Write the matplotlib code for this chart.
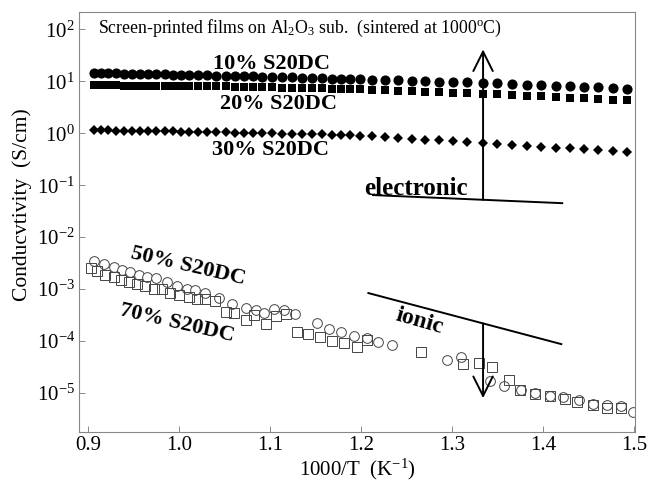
import matplotlib
matplotlib.use("Agg")
import matplotlib.pyplot as plt

plt.rcParams["font.family"] = ["Liberation Serif", "DejaVu Serif"]
plt.rcParams["mathtext.fontset"] = "custom"
plt.rcParams["mathtext.rm"] = "Liberation Serif"
plt.rcParams["mathtext.it"] = "Liberation Serif:italic"
plt.rcParams["mathtext.bf"] = "Liberation Serif:bold"

# ── Electronic (high conductivity) series, shared 1000/T positions ──────────
x_elec = [0.906, 0.914, 0.922, 0.931, 0.939, 0.948, 0.957, 0.966, 0.975, 0.984,
          0.993, 1.002, 1.011, 1.021, 1.031, 1.041, 1.051, 1.061, 1.071, 1.081,
          1.091, 1.102, 1.113, 1.124, 1.135, 1.146, 1.157, 1.168, 1.178, 1.188,
          1.199, 1.212, 1.226, 1.241, 1.256, 1.270, 1.286, 1.301, 1.316, 1.334,
          1.349, 1.366, 1.382, 1.398, 1.414, 1.430, 1.445, 1.460, 1.477, 1.492]

sigma_10 = [14.5, 14.4, 14.3, 14.2, 14.1, 13.9, 13.8, 13.7, 13.6, 13.5,
            13.4, 13.3, 13.2, 13.1, 13.0, 12.9, 12.7, 12.6, 12.5, 12.4,
            12.2, 12.1, 12.0, 11.9, 11.7, 11.6, 11.5, 11.3, 11.2, 11.1,
            11.0, 10.8, 10.6, 10.4, 10.2, 10.0, 9.85, 9.66, 9.48, 9.27,
            9.06, 8.82, 8.60, 8.39, 8.18, 7.98, 7.80, 7.62, 7.41, 7.24]

sigma_20 = [8.37, 8.36, 8.34, 8.30, 8.28, 8.26, 8.24, 8.20, 8.18, 8.17,
            8.15, 8.11, 8.09, 8.07, 8.04, 8.02, 7.94, 7.87, 7.82, 7.74,
            7.69, 7.62, 7.55, 7.48, 7.41, 7.34, 7.28, 7.21, 7.14, 7.10,
            6.98, 6.85, 6.73, 6.59, 6.46, 6.32, 6.19, 6.07, 5.94, 5.79,
            5.64, 5.46, 5.30, 5.14, 4.99, 4.84, 4.71, 4.58, 4.44, 4.32]

sigma_30 = [1.14, 1.14, 1.13, 1.12, 1.12, 1.11, 1.11, 1.10, 1.09, 1.09,
            1.08, 1.07, 1.07, 1.06, 1.05, 1.05, 1.04, 1.03, 1.02, 1.01,
            1.00, 0.993, 0.984, 0.975, 0.966, 0.957, 0.948, 0.940, 0.931, 0.925,
            0.902, 0.873, 0.843, 0.813, 0.783, 0.757, 0.728, 0.701, 0.675, 0.646,
            0.622, 0.597, 0.574, 0.551, 0.530, 0.509, 0.491, 0.473, 0.454, 0.438]

# ── Ionic (low conductivity) series ─────────────────────────────────────────
x_50 = [0.906, 0.917, 0.928, 0.937, 0.946, 0.956, 0.965, 0.975, 0.987, 0.998,
        1.009, 1.018, 1.029, 1.044, 1.058, 1.073, 1.084, 1.093, 1.104, 1.115,
        1.127, 1.152, 1.165, 1.178, 1.192, 1.206, 1.219, 1.234, 1.294, 1.310,
        1.342, 1.357, 1.376, 1.391, 1.407, 1.422, 1.439, 1.455, 1.470, 1.486,
        1.499]
sigma_50 = [3.5e-3, 3.0e-3, 2.7e-3, 2.34e-3, 2.14e-3, 1.9e-3, 1.74e-3, 1.62e-3, 1.38e-3, 1.15e-3,
            1.02e-3, 9.5e-4, 8.3e-4, 6.8e-4, 5.1e-4, 4.3e-4, 4.0e-4, 3.4e-4, 4.2e-4, 4.0e-4,
            3.3e-4, 2.2e-4, 1.7e-4, 1.48e-4, 1.26e-4, 1.17e-4, 9.8e-5, 8.3e-5, 4.3e-5, 4.9e-5,
            1.7e-5, 1.38e-5, 1.15e-5, 1.0e-5, 8.9e-6, 8.3e-6, 7.4e-6, 6.2e-6, 5.8e-6, 5.6e-6,
            4.4e-6]

x_70 = [0.903, 0.910, 0.919, 0.928, 0.936, 0.945, 0.954, 0.963, 0.972, 0.981,
        0.990, 1.000, 1.011, 1.020, 1.029, 1.040, 1.051, 1.060, 1.073, 1.082,
        1.095, 1.106, 1.118, 1.130, 1.142, 1.155, 1.168, 1.181, 1.195, 1.207,
        1.266, 1.312, 1.329, 1.344, 1.362, 1.375, 1.391, 1.408, 1.424, 1.437,
        1.455, 1.470, 1.486]
sigma_70 = [2.57e-3, 2.24e-3, 1.9e-3, 1.74e-3, 1.48e-3, 1.38e-3, 1.23e-3, 1.15e-3, 1.02e-3, 1.02e-3,
            8.3e-4, 7.6e-4, 7.1e-4, 6.6e-4, 6.5e-4, 5.8e-4, 3.6e-4, 3.4e-4, 2.5e-4, 3.2e-4,
            2.1e-4, 3.0e-4, 3.3e-4, 1.48e-4, 1.35e-4, 1.2e-4, 1.02e-4, 9.1e-5, 7.6e-5, 1.07e-4,
            6.2e-5, 3.6e-5, 3.8e-5, 3.2e-5, 1.78e-5, 1.17e-5, 9.8e-6, 8.7e-6, 7.6e-6, 6.8e-6,
            5.9e-6, 5.1e-6, 5.2e-6]

# guide lines (slopes) and the separating arrows
elec_line_x = [1.213, 1.421]
elec_line_y = [0.0646, 0.0451]
ionic_line_x = [1.208, 1.420]
ionic_line_y = [8.4e-4, 8.75e-5]
arrow_x = 1.334
elec_arrow_y = (0.0524, 41.0)
ionic_arrow_y = (2.18e-4, 8.0e-6)

x_ticks = [0.9, 1.0, 1.1, 1.2, 1.3, 1.4, 1.5]
x_ticklabels = ["0.9", "1.0", "1.1", "1.2", "1.3", "1.4", "1.5"]
y_ticks = [1e2, 1e1, 1e0, 1e-1, 1e-2, 1e-3, 1e-4, 1e-5]
y_ticklabels = [r"$10^{2}$", r"$10^{1}$", r"$10^{0}$", r"$10^{-1}$",
                r"$10^{-2}$", r"$10^{-3}$", r"$10^{-4}$", r"$10^{-5}$"]

fig = plt.figure(figsize=(6.5, 4.86), dpi=100)
ax = fig.add_axes([0.1215, 0.111, 0.8555, 0.864])

# filled markers: electronic conductors
ax.plot(x_elec, sigma_10, "o", color="black", ms=7.3, mew=0)
ax.plot(x_elec, sigma_20, "s", color="black", ms=5.6, mew=0)
ax.plot(x_elec, sigma_30, "D", color="black", ms=5.0, mew=0)

# open markers: ionic conductors
ax.plot(x_50, sigma_50, "o", mfc="white", mec="#444444", ms=7, mew=0.7, ls="none")
ax.plot(x_70, sigma_70, "s", mfc="none", mec="#444444", ms=7, mew=0.7, ls="none")

ax.plot(elec_line_x, elec_line_y, color="black", lw=1.4)
ax.plot(ionic_line_x, ionic_line_y, color="black", lw=1.4)
ax.annotate("", xy=(arrow_x, elec_arrow_y[1]), xytext=(arrow_x, elec_arrow_y[0]),
            arrowprops=dict(arrowstyle="->,head_length=0.7,head_width=0.35",
                            color="black", lw=1.4, mutation_scale=20, shrinkA=0, shrinkB=0))
ax.annotate("", xy=(arrow_x, ionic_arrow_y[1]), xytext=(arrow_x, ionic_arrow_y[0]),
            arrowprops=dict(arrowstyle="->,head_length=0.7,head_width=0.35",
                            color="black", lw=1.4, mutation_scale=20, shrinkA=0, shrinkB=0))

# labels
bold = dict(fontsize=16, fontweight="bold", ha="center", va="center")
ax.text(1.102, 21.2, "10% S20DC", **bold)
ax.text(1.109, 3.61, "20% S20DC", **bold)
ax.text(1.100, 0.471, "30% S20DC", **bold)
ax.text(1.260, 0.0875, "electronic", fontsize=18, fontweight="bold", ha="center", va="center")
ax.text(1.010, 2.77e-3, "50% S20DC", rotation=-13, **bold)
ax.text(0.998, 2.22e-4, "70% S20DC", rotation=-13, **bold)
ax.text(1.264, 2.43e-4, "ionic", fontsize=17, fontweight="bold", rotation=-16,
        ha="center", va="center")
ax.text(0.911, 10**2.02, r"Screen-printed films on Al$_2$O$_3$ sub.  (sintered at 1000$\rm{^o}$C)",
        fontsize=12.8, ha="left", va="center")

ax.set_yscale("log")
ax.set_xlim(0.890, 1.501)
ax.set_ylim(10**-5.75, 10**2.33)
ax.set_xticks(x_ticks)
ax.set_xticklabels(x_ticklabels)
ax.set_yticks(y_ticks)
ax.set_yticklabels(y_ticklabels)
ax.minorticks_off()
ax.tick_params(direction="in", length=4, width=0.6, color="#777777", labelsize=15, pad=3)
for sp in ax.spines.values():
    sp.set_color("#888888")
    sp.set_linewidth(0.8)

ax.set_xlabel(r"1000/T  (K$^{-1}$)", fontsize=15, labelpad=1)
fig.text(0.034, 1 - 205 / 486, "Conducvtivity  (S/cm)", rotation=90, fontsize=15.5,
         ha="center", va="center")

fig.savefig("out.png", dpi=100)
